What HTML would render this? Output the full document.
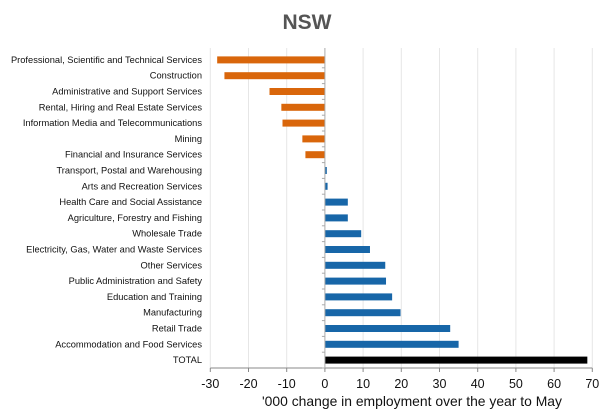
<!DOCTYPE html>
<html><head><meta charset="utf-8"><style>
html,body{margin:0;padding:0;background:#fff;}
svg{display:block;font-family:"Liberation Sans",sans-serif;}
</style></head><body>
<svg id="chart" width="609" height="420">
<text x="307" y="29" text-anchor="middle" font-size="21" font-weight="bold" fill="#555">NSW</text>
<g id="grid"></g><g id="bars"></g><g id="ylabels"></g><g id="xaxis"></g>
<text x="412" y="406" text-anchor="middle" font-size="13.9" fill="#111">'000 change in employment over the year to May</text>
</svg>
<script>
const categories=["Professional, Scientific and Technical Services","Construction","Administrative and Support Services","Rental, Hiring and Real Estate Services","Information Media and Telecommunications","Mining","Financial and Insurance Services","Transport, Postal and Warehousing","Arts and Recreation Services","Health Care and Social Assistance","Agriculture, Forestry and Fishing","Wholesale Trade","Electricity, Gas, Water and Waste Services","Other Services","Public Administration and Safety","Education and Training","Manufacturing","Retail Trade","Accommodation and Food Services","TOTAL"];
const values=[-28.2,-26.3,-14.5,-11.4,-11.1,-5.9,-5.1,0.5,0.7,6.0,6.0,9.5,11.8,15.8,16.0,17.6,19.8,32.8,35.0,68.7];
const ticks=[-30,-20,-10,0,10,20,30,40,50,60,70];
const NS="http://www.w3.org/2000/svg";
const x0=210.3,x1=592.3,plotTop=52,plotBottom=368;
const xs=v=>x0+(v+30)/100*(x1-x0);
const band=(plotBottom-plotTop)/categories.length;
const yc=i=>plotTop+band*(i+0.5);
function mk(t,a,p){const e=document.createElementNS(NS,t);for(const k in a)e.setAttribute(k,a[k]);p.appendChild(e);return e;}
const grid=document.getElementById('grid'),bars=document.getElementById('bars'),yl=document.getElementById('ylabels'),xa=document.getElementById('xaxis');
ticks.forEach(t=>{
 if(t!==0){const g=mk('line',{x1:xs(t),x2:xs(t),y1:plotTop-4,y2:plotBottom,stroke:'#e6e6e6','stroke-width':1},grid);
 
 }
 const tk=mk('line',{x1:xs(t),x2:xs(t),y1:plotBottom,y2:plotBottom+4,stroke:'#888'},xa);
 
 
 const tl=mk('text',{x:xs(t),y:plotBottom+20,'text-anchor':'middle','font-size':12.5,fill:'#111'},xa);
 tl.textContent=t;
 
 
});
const ax=mk('line',{x1:x0,x2:x1,y1:plotBottom,y2:plotBottom,stroke:'#888'},xa);


const za=mk('line',{x1:xs(0),x2:xs(0),y1:plotTop-4,y2:plotBottom,stroke:'#aaa'},xa);


categories.forEach((c,i)=>{
 const v=values[i];
 const col=i===categories.length-1?'#000':(v<0?'#d9660b':'#1766a8');
 const r=mk('rect',{x:Math.min(xs(0),xs(v)),y:yc(i)-3.5,width:Math.abs(xs(v)-xs(0)),height:7,fill:col},bars);
 
 
 const tk=mk('line',{x1:xs(0)-3,x2:xs(0),y1:plotTop+band*(i+1),y2:plotTop+band*(i+1),stroke:'#aaa'},xa);
 
 
 const l=mk('text',{x:202,y:yc(i)+3,'text-anchor':'end','font-size':9.3,fill:'#111'},yl);
 l.textContent=c;
 
 
});
</script>
</body></html>
